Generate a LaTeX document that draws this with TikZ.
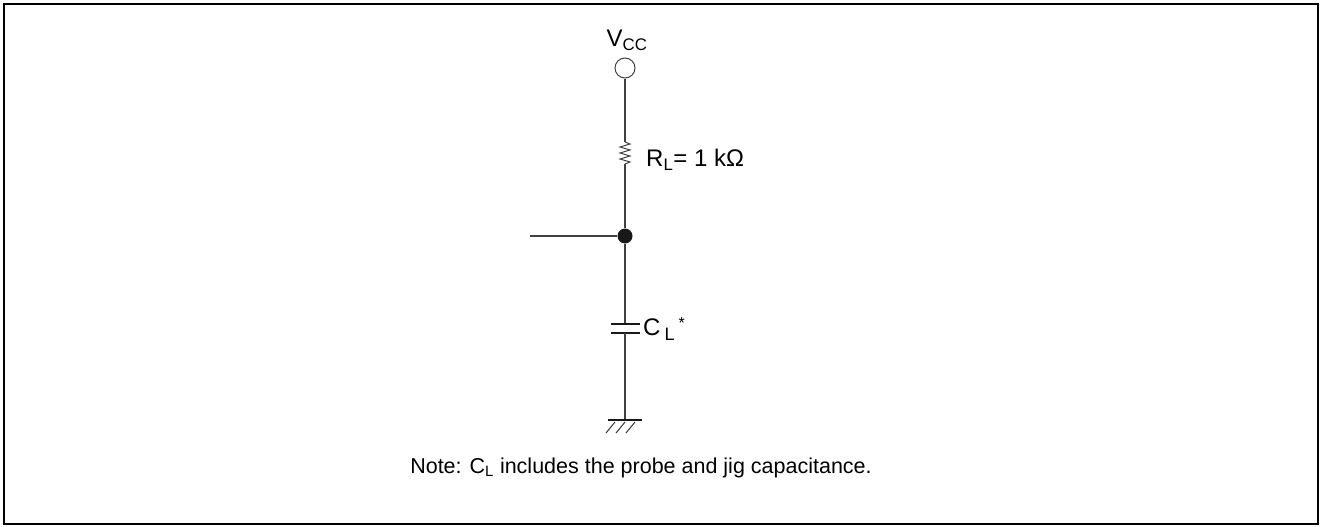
\documentclass[tikz,border=0pt]{standalone}
\usepackage{fontspec}
\setmainfont{Liberation Sans}
\begin{document}
\begin{tikzpicture}[x=1pt,y=-1pt,
  wire/.style={line width=1.3pt,draw=black!75},
  lbl/.style={inner sep=0pt,font=\fontsize{24}{28}\selectfont}]
\useasboundingbox (0,0) rectangle (1322,527);
\draw[line width=2.2pt] (4,4) rectangle (1318,524);
% nodes
\node[lbl] (vcc) at (627,40) {V\textsubscript{CC}};
\node[circle,draw=black!75,line width=1pt,minimum size=20pt,inner sep=0pt] (src) at (625,68) {};
\coordinate (rtop) at (625,142);
\coordinate (rbot) at (625,164);
\node[circle,fill=black!90,minimum size=15pt,inner sep=0pt] (j) at (625,236) {};
\coordinate (in) at (530,236);
\coordinate (ctop) at (625,324);
\coordinate (cbot) at (625,333);
\coordinate (gnd) at (625,420);
% wires
\draw[wire] (src.south) -- (rtop);
\draw[wire,line width=1pt,line join=miter] (rtop) -- ++(5,2) -- ++(-10,3) -- ++(10,3) -- ++(-10,3) -- ++(10,3) -- ++(-10,3) -- ++(10,3) -- (rbot);
\draw[wire] (rbot) -- (j);
\draw[wire] (in) -- (j);
\draw[wire] (j) -- (ctop);
\draw[line width=2.4pt,black!90] (611,324) -- (640,324);
\draw[line width=2.4pt,black!90] (611,333) -- (640,333);
\draw[wire] (cbot) -- (gnd);
\draw[line width=2.8pt,black!90] (608,420) -- (642,420);
\foreach \x in {615,625,635} \draw[line width=1pt,black!80] (\x,422) -- (\x-9,433);
% labels
\node[lbl,anchor=west] (rl) at (646,160) {R\textsubscript{L}= 1 kΩ};
\node[lbl,anchor=west] (cl) at (643,329) {C\,\raisebox{-0.45ex}{\fontsize{18}{20}\selectfont L}\,\raisebox{0.55ex}{\fontsize{16}{18}\selectfont *}};
\node[lbl,font=\fontsize{21.5}{25}\selectfont] (note) at (641,468) {Note: C\textsubscript{L} includes the probe and jig capacitance.};
\end{tikzpicture}
\end{document}
